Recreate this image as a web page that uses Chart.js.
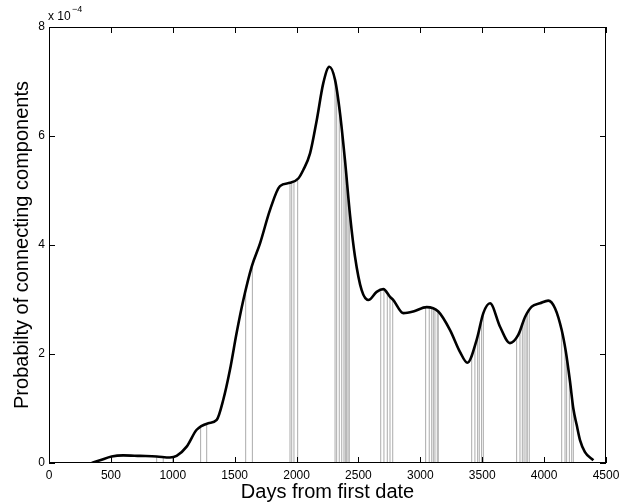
<!DOCTYPE html>
<html>
<head>
<meta charset="utf-8">
<script src="https://cdn.jsdelivr.net/npm/chart.js@4"></script>
<style>
  html, body { margin: 0; padding: 0; background: #fff; }
  #wrap { width: 625px; height: 503px; }
</style>
</head>
<body>
<div id="wrap"><canvas id="probChart" width="625" height="503"></canvas></div>
<script>
// ===================================
// DATA (values in units of 10^-4)
// ===================================
const curveDays = [345, 412, 506, 601, 735, 870, 977, 1031, 1112, 1193, 1287, 1355, 1408, 1462, 1516,
  1570, 1637, 1705, 1785, 1866, 1947, 2014, 2055, 2109, 2163, 2216, 2265, 2311, 2351, 2391, 2432,
  2472, 2526, 2580, 2647, 2701, 2755, 2782, 2863, 2943, 3051, 3145, 3240, 3320, 3380, 3455, 3509,
  3563, 3644, 3724, 3791, 3846, 3900, 3967, 4034, 4088, 4142, 4175, 4209, 4236, 4263, 4290, 4330, 4398];
const curveValues = [0.00, 0.05, 0.12, 0.14, 0.13, 0.12, 0.10, 0.13, 0.30, 0.61, 0.73, 0.79, 1.16, 1.71, 2.39,
  2.99, 3.60, 4.03, 4.64, 5.08, 5.14, 5.22, 5.38, 5.68, 6.29, 6.97, 7.27, 7.03, 6.42, 5.56, 4.55,
  3.79, 3.17, 2.99, 3.14, 3.19, 3.05, 2.99, 2.75, 2.78, 2.86, 2.78, 2.44, 2.04, 1.84, 2.26, 2.75,
  2.93, 2.50, 2.20, 2.35, 2.68, 2.87, 2.93, 2.98, 2.84, 2.44, 2.05, 1.50, 1.00, 0.70, 0.42, 0.20, 0.05];

// gray marker lines: day and height where each meets the curve
const eventDays = [506, 870, 923, 999, 1225, 1274, 1589, 1643, 1947, 1961, 1979, 2009,
  2311, 2324, 2345, 2365, 2383, 2394, 2405, 2416, 2426, 2680, 2706, 2733, 2755, 2777,
  3043, 3072, 3092, 3105, 3118, 3137, 3145, 3415, 3441, 3463, 3476, 3495, 3509,
  3778, 3805, 3824, 3838, 3854, 3864, 3880, 4142, 4169, 4182, 4204, 4223, 4236];
const eventHeights = [0.13, 0.13, 0.12, 0.11, 0.70, 0.74, 3.10, 3.70, 5.16, 5.17, 5.18, 5.22,
  7.05, 6.95, 6.60, 6.25, 5.85, 5.55, 5.25, 4.95, 4.75, 3.22, 3.20, 3.14, 3.07, 3.01,
  2.87, 2.88, 2.87, 2.86, 2.84, 2.81, 2.80, 1.95, 2.18, 2.40, 2.55, 2.70, 2.80,
  2.32, 2.45, 2.58, 2.66, 2.75, 2.81, 2.87, 2.48, 2.15, 1.95, 1.65, 1.35, 1.10];

const xTicks = [0, 500, 1000, 1500, 2000, 2500, 3000, 3500, 4000, 4500];
const yTicks = [0, 2, 4, 6, 8];

// build segments: bottom -> top, then a gap
const eventPoints = [];
eventDays.forEach((d, i) => {
    eventPoints.push({ x: d, y: 0 }, { x: d, y: eventHeights[i] }, { x: d, y: null });
});
const curvePoints = curveDays.map((d, i) => ({ x: d, y: curveValues[i] }));

const FONT = "'Liberation Sans', Arial, Helvetica, sans-serif";

// MATLAB style box, inward ticks and the exponent label
const matlabBox = {
    id: 'matlabBox',
    afterDraw(chart) {
        const { ctx, chartArea: a, scales } = chart;
        ctx.save();
        ctx.strokeStyle = '#000';
        ctx.lineWidth = 1;
        ctx.strokeRect(a.left + 0.5, a.top + 0.5, a.right - a.left - 1, a.bottom - a.top - 1);
        ctx.beginPath();
        xTicks.forEach(v => {
            const px = Math.round(scales.x.getPixelForValue(v)) + 0.5;
            ctx.moveTo(px, a.bottom); ctx.lineTo(px, a.bottom - 6);
            ctx.moveTo(px, a.top); ctx.lineTo(px, a.top + 6);
        });
        yTicks.forEach(v => {
            const py = Math.round(scales.y.getPixelForValue(v)) + 0.5;
            ctx.moveTo(a.left, py); ctx.lineTo(a.left + 6, py);
            ctx.moveTo(a.right, py); ctx.lineTo(a.right - 6, py);
        });
        ctx.stroke();
        // x 10^-4
        ctx.fillStyle = '#000';
        ctx.textBaseline = 'alphabetic';
        ctx.textAlign = 'left';
        ctx.font = '12px ' + FONT;
        ctx.fillText('x 10', a.left - 1, 20);
        ctx.font = '9px ' + FONT;
        ctx.fillText('\u22124', a.left + 23, 12);
        ctx.restore();
    }
};

const config = {
    type: 'line',
    data: {
        datasets: [
            {
                label: 'Probability',
                data: curvePoints,
                borderColor: '#000',
                borderWidth: 2.6,
                pointRadius: 0,
                cubicInterpolationMode: 'monotone',
                fill: 'end',
                backgroundColor: '#fff'
            },
            {
                label: 'Events',
                data: eventPoints,
                borderColor: '#ababab',
                borderWidth: 1,
                pointRadius: 0,
                tension: 0,
                spanGaps: false,
                fill: false
            }
        ]
    },
    options: {
        responsive: false,
        animation: false,
        layout: { padding: { top: 27, right: 19, left: 0, bottom: 0 } },
        plugins: {
            legend: { display: false },
            tooltip: { enabled: false }
        },
        scales: {
            x: {
                type: 'linear',
                min: 0,
                max: 4500,
                grid: { display: false, drawTicks: false },
                border: { display: false },
                afterBuildTicks: s => { s.ticks = xTicks.map(v => ({ value: v })); },
                afterFit: s => { s.height = 40; },
                ticks: {
                    color: '#000',
                    font: { family: FONT, size: 12 },
                    padding: 5,
                    maxRotation: 0,
                    callback: v => String(v)
                },
                title: {
                    display: true,
                    text: 'Days from first date',
                    color: '#000',
                    font: { family: FONT, size: 20, lineHeight: 1 },
                    padding: { top: 0, bottom: 1 }
                }
            },
            y: {
                min: 0,
                max: 8,
                grid: { display: false, drawTicks: false },
                border: { display: false },
                afterBuildTicks: s => { s.ticks = yTicks.map(v => ({ value: v })); },
                afterFit: s => { s.width = 49; },
                ticks: {
                    color: '#000',
                    font: { family: FONT, size: 12 },
                    padding: 4,
                    callback: v => String(v)
                },
                title: {
                    display: true,
                    text: 'Probabilty of connecting components',
                    color: '#000',
                    font: { family: FONT, size: 20, lineHeight: 1 },
                    padding: { top: 12, bottom: 0 }
                }
            }
        }
    },
    plugins: [matlabBox]
};

const ctxProb = document.getElementById('probChart').getContext('2d');
new Chart(ctxProb, config);
</script>
</body>
</html>
